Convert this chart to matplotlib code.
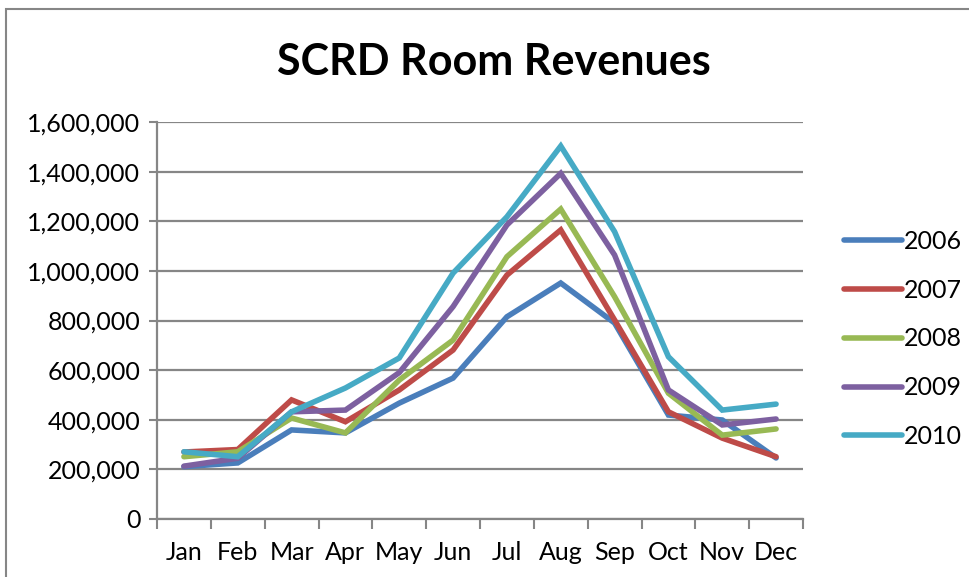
import matplotlib
matplotlib.use("Agg")
import matplotlib.pyplot as plt
from matplotlib.patches import Rectangle
from matplotlib.ticker import FuncFormatter, FixedLocator
import numpy as np

months = ["Jan", "Feb", "Mar", "Apr", "May", "Jun", "Jul", "Aug", "Sep", "Oct", "Nov", "Dec"]
years = ["2006", "2007", "2008", "2009", "2010"]
rev_2006 = [211000, 226000, 359000, 347000, 467000, 568000, 815000, 951000, 790000, 419000, 399000, 246000]
rev_2007 = [270000, 280000, 480000, 392000, 520000, 681000, 983000, 1165000, 802000, 432000, 326000, 251000]
rev_2008 = [251000, 271000, 407000, 347000, 560000, 721000, 1057000, 1249000, 896000, 507000, 338000, 363000]
rev_2009 = [213000, 245000, 432000, 439000, 590000, 856000, 1185000, 1393000, 1064000, 520000, 379000, 403000]
rev_2010 = [271000, 251000, 432000, 528000, 649000, 991000, 1218000, 1503000, 1158000, 654000, 439000, 463000]
series = [rev_2006, rev_2007, rev_2008, rev_2009, rev_2010]
colors = ["#4A7EBB", "#BE4B48", "#98B954", "#7D60A0", "#46AAC5"]

plt.rcParams['font.family'] = ['Lato', 'DejaVu Sans']

fig = plt.figure(figsize=(9.69, 5.77), dpi=100)
fig.patch.set_facecolor("white")
# chart frame
fig.patches.append(Rectangle((6/969, -0.1), 1.2, (577-9)/577 + 0.1, transform=fig.transFigure,
                             fill=False, edgecolor="#868686", linewidth=1.5))

ax = fig.add_axes([157/969, 58/577, (803-157)/969, (519-122)/577])
x = np.arange(len(months))
for s, c, lab in zip(series, colors, years):
    ax.plot(x, s, color=c, linewidth=4.0, label=lab, solid_joinstyle="miter", solid_capstyle="round")

ax.set_xlim(-0.5, 11.5)
ax.set_ylim(0, 1600000)
ax.set_yticks(np.arange(0, 1600001, 200000))
ax.yaxis.set_major_formatter(FuncFormatter(lambda v, p: f"{int(v):,}"))
ax.yaxis.grid(True, color="#868686", linewidth=1.6)
ax.set_axisbelow(True)

ax.xaxis.set_major_locator(FixedLocator(np.arange(-0.5, 12, 1)))
ax.xaxis.set_minor_locator(FixedLocator(x))
ax.set_xticklabels([""] * 13)
ax.set_xticklabels(months, minor=True)
ax.tick_params(axis="x", which="major", length=7, width=1.5, color="#868686", direction="out")
ax.tick_params(axis="x", which="minor", length=0, pad=16, labelsize=18)
ax.tick_params(axis="y", which="major", length=6, width=1.5, color="#868686", direction="out", labelsize=18, pad=6)

for sp in ["top", "right"]:
    ax.spines[sp].set_visible(False)
for sp in ["left", "bottom"]:
    ax.spines[sp].set_color("#868686")
    ax.spines[sp].set_linewidth(1.6)

fig.text(494/969, 1 - 62/577, "SCRD Room Revenues", ha="center", va="center",
         fontsize=31, fontweight="bold")

leg = fig.legend(loc="upper left", bbox_to_anchor=(834/969, 1 - 220/577), frameon=False,
                 fontsize=18, handlelength=2.3, handletextpad=0.1, labelspacing=1.03,
                 borderaxespad=0)
for line in leg.get_lines():
    line.set_linewidth(4.0)

fig.savefig("out.png", dpi=100)
